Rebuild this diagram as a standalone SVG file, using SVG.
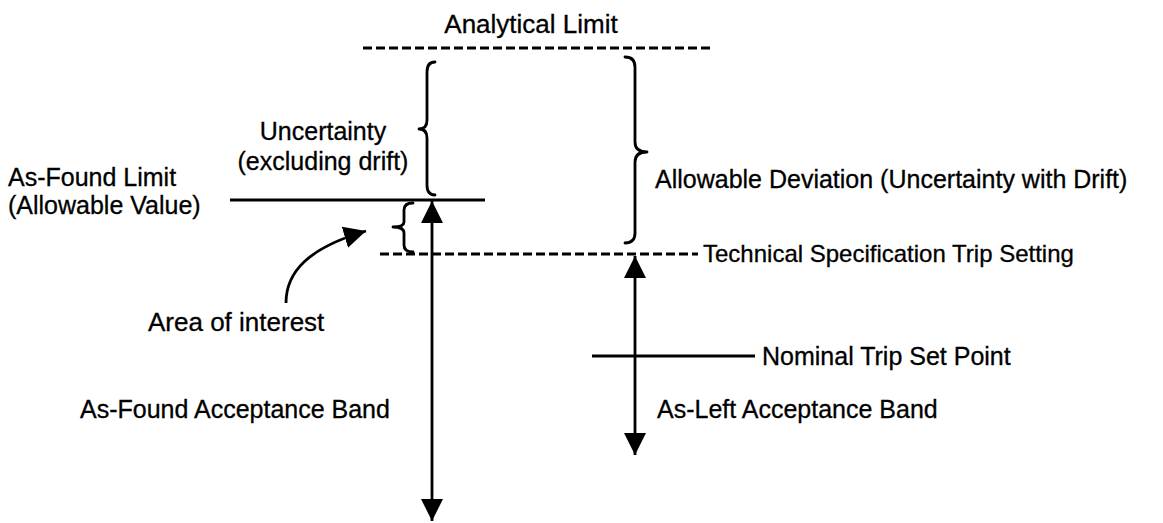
<svg xmlns="http://www.w3.org/2000/svg" width="1163" height="523" viewBox="0 0 1163 523">
<defs>
<style>
text{font-family:"Liberation Sans",Arial,sans-serif;font-size:25px;fill:#000;stroke:#000;stroke-width:0.3}
.ln{stroke:#000;stroke-width:2.8;fill:none}
.dash{stroke:#000;stroke-width:2.8;fill:none;stroke-dasharray:9 4}
.br{stroke:#000;stroke-width:2.8;fill:none;stroke-linecap:round;stroke-linejoin:round}
.head{fill:#000;stroke:none}
</style>
<marker id="ah" viewBox="0 0 22 22" refX="22" refY="11" markerWidth="22" markerHeight="22" markerUnits="userSpaceOnUse" orient="auto-start-reverse">
<path d="M0 0 L22 11 L0 22 Z" class="head"/>
</marker>
</defs>
<rect width="1163" height="523" fill="#fff"/>

<g id="analytical-limit">
<text x="531" y="33" text-anchor="middle" style="font-size:26px">Analytical Limit</text>
<line class="dash" x1="363" y1="48" x2="712" y2="48"/>
</g>

<g id="uncertainty">
<text x="323" y="140" text-anchor="middle">Uncertainty</text>
<text x="323" y="170" text-anchor="middle">(excluding drift)</text>
<path class="br" d="M435 62 Q427 62 427 72 L427 120 Q427 129 419 129 Q427 129 427 138 L427 185 Q427 195 435 195"/>
</g>

<g id="allowable-deviation">
<path class="br" d="M625 57 Q635 57 635 67 L635 142 Q635 152 647 152 Q635 152 635 162 L635 233 Q635 243 625 243"/>
<text x="655" y="188">Allowable Deviation (Uncertainty with Drift)</text>
</g>

<g id="as-found-limit">
<text x="8" y="186">As-Found Limit</text>
<text x="8" y="214">(Allowable Value)</text>
<line class="ln" x1="230" y1="200" x2="485" y2="200"/>
</g>

<g id="small-brace">
<path class="br" d="M413 203 Q404 203 404 210 L404 222 Q404 227 393 227 Q404 227 404 233 L404 245 Q404 252 413 252"/>
</g>

<g id="tech-spec">
<line class="dash" x1="380" y1="254" x2="698" y2="254"/>
<text x="703" y="262" style="font-size:24px">Technical Specification Trip Setting</text>
</g>

<g id="area-of-interest">
<text x="148" y="331" style="font-size:26px">Area of interest</text>
</g>

<g id="nominal">
<line class="ln" x1="592" y1="356" x2="755" y2="356"/>
<text x="762" y="365">Nominal Trip Set Point</text>
</g>

<g id="as-found-band">
<text x="80" y="418">As-Found Acceptance Band</text>
</g>

<g id="as-left-band">
<text x="657" y="418">As-Left Acceptance Band</text>
</g>

<g id="connectors">
<line class="ln" x1="432" y1="201" x2="432" y2="521" marker-start="url(#ah)" marker-end="url(#ah)"/>
<line class="ln" x1="635" y1="256" x2="635" y2="455" marker-start="url(#ah)" marker-end="url(#ah)"/>
<path class="ln" d="M286 303 C286 272 308 248 366 231" marker-end="url(#ah)"/>
</g>
</svg>
